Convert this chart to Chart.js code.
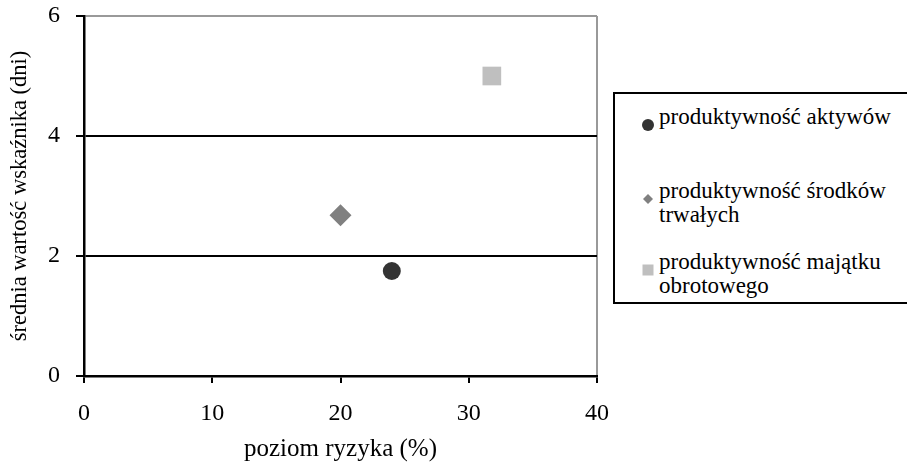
<!DOCTYPE html>
<html>
<head>
<meta charset="utf-8">
<script src="https://cdn.jsdelivr.net/npm/chart.js@4/dist/chart.umd.min.js"></script>
<style>
  html, body { margin: 0; padding: 0; background: #fff; }
  #wrap { position: relative; width: 907px; height: 465px; overflow: hidden; }
  #c { position: absolute; left: 0; top: 0; }
  #legend { position: absolute; left: 613px; top: 92px; width: 310px; height: 212px;
            border: 2px solid #000; box-sizing: border-box; background: #fff;
            font-family: "Liberation Serif", "Times New Roman", serif; font-size: 23px; color: #000; }
  .item { position: absolute; left: 0; }
  .mk { position: absolute; }
  .txt { position: absolute; left: 44px; line-height: 24px; white-space: nowrap; }
</style>
</head>
<body>
<div id="wrap">
  <canvas id="c" width="907" height="465"></canvas>
  <div id="legend"></div>
</div>
<script>
const seriesNames = ['produktywność aktywów', 'produktywność środków trwałych', 'produktywność majątku obrotowego'];
const legendLines = [['produktywność aktywów'], ['produktywność środków', 'trwałych'], ['produktywność majątku', 'obrotowego']];
const riskLevel = [24, 20, 31.8];
const meanValue = [1.75, 2.68, 5.0];
const xTicks = [0, 10, 20, 30, 40];
const yTicks = [0, 2, 4, 6];
const xTitle = 'poziom ryzyka (%)';
const yTitle = 'średnia wartość wskaźnika (dni)';

const colors = ['#333333', '#808080', '#bfbfbf'];
const shapes = ['circle', 'rectRot', 'rect'];
const radii = [9, 11, 13.2];

const serif = '"Liberation Serif", "Times New Roman", serif';

const datasets = seriesNames.map((n, i) => ({
  label: n,
  data: [{ x: riskLevel[i], y: meanValue[i] }],
  pointStyle: shapes[i],
  pointRadius: radii[i],
  pointHoverRadius: radii[i],
  backgroundColor: colors[i],
  borderColor: colors[i],
  borderWidth: 0
}));

new Chart(document.getElementById('c'), {
  type: 'scatter',
  data: { datasets },
  options: {
    responsive: false,
    animation: false,
    events: [],
    layout: { padding: { top: 16, right: 310, left: 0, bottom: 0 } },
    plugins: { legend: { display: false }, tooltip: { enabled: false } },
    scales: {
      x: {
        type: 'linear', min: 0, max: 40,
        afterBuildTicks: s => { s.ticks = xTicks.map(v => ({ value: v })); },
        afterFit: s => { s.height = 89; s.paddingLeft = 0; s.paddingRight = 0; },
        ticks: { color: '#000', font: { family: serif, size: 24 }, padding: 16, maxRotation: 0 },
        grid: {
          color: c => (c.tick && c.tick.value === 40) ? '#999999' : 'rgba(0,0,0,0)',
          tickColor: '#000', lineWidth: 2, tickLength: 7, drawTicks: true
        },
        border: { color: '#000', width: 2.5 },
        title: { display: true, text: xTitle, color: '#000', font: { family: serif, size: 25 }, padding: { top: 0, bottom: 1 } }
      },
      y: {
        type: 'linear', min: 0, max: 6,
        afterBuildTicks: s => { s.ticks = yTicks.map(v => ({ value: v })); },
        afterFit: s => { s.width = 84; s.paddingTop = 0; s.paddingBottom = 0; },
        ticks: { color: '#000', font: { family: serif, size: 24 }, padding: 16 },
        grid: {
          color: c => {
            const v = c.tick ? c.tick.value : null;
            if (v === 6) return '#999999';
            if (v === 0) return 'rgba(0,0,0,0)';
            return '#000';
          },
          tickColor: '#000', lineWidth: 2, tickLength: 8, drawTicks: true
        },
        border: { color: '#000', width: 2.5 },
        title: { display: true, text: yTitle, color: '#000', font: { family: serif, size: 22.5 }, padding: { top: 6.5, bottom: 0 } }
      }
    }
  }
});

// legend
const legend = document.getElementById('legend');
const itemTops = [11, 85, 156];
const markerSvgs = [
  c => `<svg width="14" height="14"><circle cx="7" cy="7" r="6" fill="${c}"/></svg>`,
  c => `<svg width="14" height="14"><polygon points="7,2 12,7 7,12 2,7" fill="${c}"/></svg>`,
  c => `<svg width="14" height="14"><rect x="1.5" y="1.5" width="11" height="11" fill="${c}"/></svg>`
];
legendLines.forEach((lines, i) => {
  const it = document.createElement('div');
  it.className = 'item';
  it.style.top = itemTops[i] + 'px';
  const mk = document.createElement('div');
  mk.className = 'mk';
  mk.style.left = '26px';
  mk.style.top = '7px';
  mk.innerHTML = markerSvgs[i](colors[i]);
  const tx = document.createElement('div');
  tx.className = 'txt';
  tx.style.top = '0px';
  tx.innerHTML = lines.join('<br>');
  it.appendChild(mk);
  it.appendChild(tx);
  legend.appendChild(it);
});
</script>
</body>
</html>
